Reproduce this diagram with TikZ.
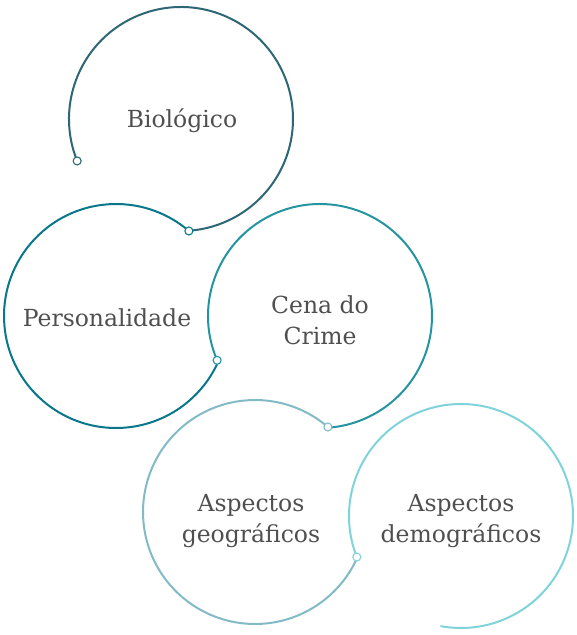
\documentclass[tikz,border=0pt]{standalone}
\usepackage{fontspec}
\setmainfont{DejaVu Serif}
\definecolor{cBio}{HTML}{2D6775}
\definecolor{cPer}{HTML}{08778A}
\definecolor{cCena}{HTML}{2495A0}
\definecolor{cGeo}{HTML}{82BBC6}
\definecolor{cDemo}{HTML}{7FD3DB}
\definecolor{txt}{HTML}{4F4F4F}
\tikzset{
  ring/.style={line width=2pt},
  dot/.style={circle,draw,fill=white,line width=1.1pt,inner sep=0pt,minimum size=8pt},
  lbl/.style={text=txt,align=center,font=\fontsize{23.5}{31}\selectfont}
}
\begin{document}
\begin{tikzpicture}[x=1pt,y=-1pt]
\useasboundingbox (0,0) rectangle (577,635);
\def\R{112}
% centres
\coordinate (c1) at (181,119);
\coordinate (c2) at (116,316);
\coordinate (c3) at (320,316);
\coordinate (c4) at (255,512);
\coordinate (c5) at (461,516);
% arcs (y axis flipped: angles measured clockwise in picture)
\draw[ring,cBio]  ([shift={(-202:\R)}]c1) coordinate (s1) arc[start angle=-202, end angle=86, radius=\R] coordinate (e1);
\draw[ring,cPer]  ([shift={(-49.4:\R)}]c2) coordinate (s2) arc[start angle=-49.4, end angle=-336.7, radius=\R] coordinate (e2);
\draw[ring,cCena] ([shift={(-203.3:\R)}]c3) coordinate (s3) arc[start angle=-203.3, end angle=86.4, radius=\R] coordinate (e3);
\draw[ring,cGeo]  ([shift={(-49.4:\R)}]c4) coordinate (s4) arc[start angle=-49.4, end angle=-336.2, radius=\R] coordinate (e4);
\draw[ring,cDemo] ([shift={(-201.5:\R)}]c5) coordinate (s5) arc[start angle=-201.5, end angle=100.6, radius=\R] coordinate (e5);
% start dots
\node[dot,draw=cBio]  (d1) at (s1) {};
\node[dot,draw=cPer]  (d2) at (s2) {};
\node[dot,draw=cCena] (d3) at (s3) {};
\node[dot,draw=cGeo]  (d4) at (s4) {};
\node[dot,draw=cDemo] (d5) at (s5) {};
% labels
\node[lbl] (t1) at (182,121) {Biológico};
\node[lbl] (t2) at (107,318) {Personalidade};
\node[lbl] (t3) at (320,320) {Cena do\\Crime};
\node[lbl] (t4) at (251,521) {Aspectos\\geográficos};
\node[lbl] (t5) at (461,521) {Aspectos\\demográficos};
\end{tikzpicture}
\end{document}
